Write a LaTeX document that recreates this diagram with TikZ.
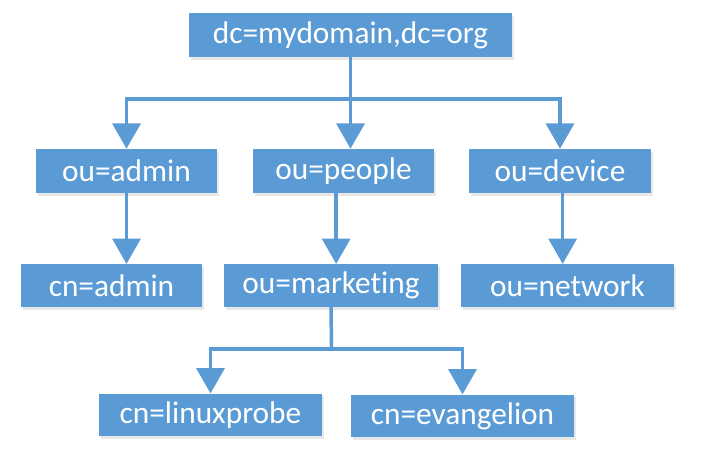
\documentclass[tikz,border=0pt]{standalone}
\usepackage{fontspec}
\setmainfont[Ligatures=NoCommon]{Carlito}
\usetikzlibrary{arrows.meta,shadows}
\definecolor{boxblue}{HTML}{5B9BD5}
\begin{document}
\begin{tikzpicture}[x=0.75pt,y=-0.75pt,
  box/.style={draw=none,fill=boxblue,text=white,inner sep=0pt,
    font=\fontsize{23.5}{26}\selectfont,
    drop shadow={opacity=0.18,shadow xshift=1.5pt,shadow yshift=-2pt}},
  conn/.style={draw=boxblue,line width=2.6pt},
  arr/.style={conn,-{Triangle[width=21pt,length=19pt]}}]
\fill[white] (0,0) rectangle (704,451);
\useasboundingbox (0,0) rectangle (704,451);
\node[box,minimum width=242pt,minimum height=33pt] (root) at (350.5,35) {dc=mydomain,dc=org};
\node[box,minimum width=136pt,minimum height=33pt] (admin) at (126.5,171) {ou=admin};
\node[box,minimum width=136pt,minimum height=33pt] (people) at (343.5,171) {ou=people};
\node[box,minimum width=136pt,minimum height=33pt] (device) at (560,171) {ou=device};
\node[box,minimum width=136pt,minimum height=32pt] (cnadmin) at (111.5,285.5) {cn=admin};
\node[box,minimum width=160pt,minimum height=32pt] (marketing) at (331,285.5) {ou=marketing};
\node[box,minimum width=160pt,minimum height=32pt] (network) at (567.5,285.5) {ou=network};
\node[box,minimum width=167pt,minimum height=32pt] (linuxprobe) at (210.5,415) {cn=linuxprobe};
\node[box,minimum width=167pt,minimum height=32pt] (evangelion) at (462.5,416) {cn=evangelion};
\coordinate (j1) at (350.5,99);
\coordinate (j2) at (331.5,349);
\draw[conn] (root.south) -- (j1);
\draw[arr] (j1) -| (admin.north);
\draw[arr] (j1) -- (j1 |- people.north);
\draw[arr] (j1) -| (device.north);
\draw[arr] (admin.south) -- (admin.south |- cnadmin.north);
\draw[arr] ([xshift=-5.5pt]people.south) -- ([xshift=-5.5pt]people.south |- marketing.north);
\draw[arr] ([xshift=2pt]device.south) -- ([xshift=2pt]device.south |- network.north);
\draw[conn] (marketing.south) -- (j2);
\draw[arr] (j2) -| (linuxprobe.north);
\draw[arr] (j2) -| (evangelion.north);
\end{tikzpicture}
\end{document}
